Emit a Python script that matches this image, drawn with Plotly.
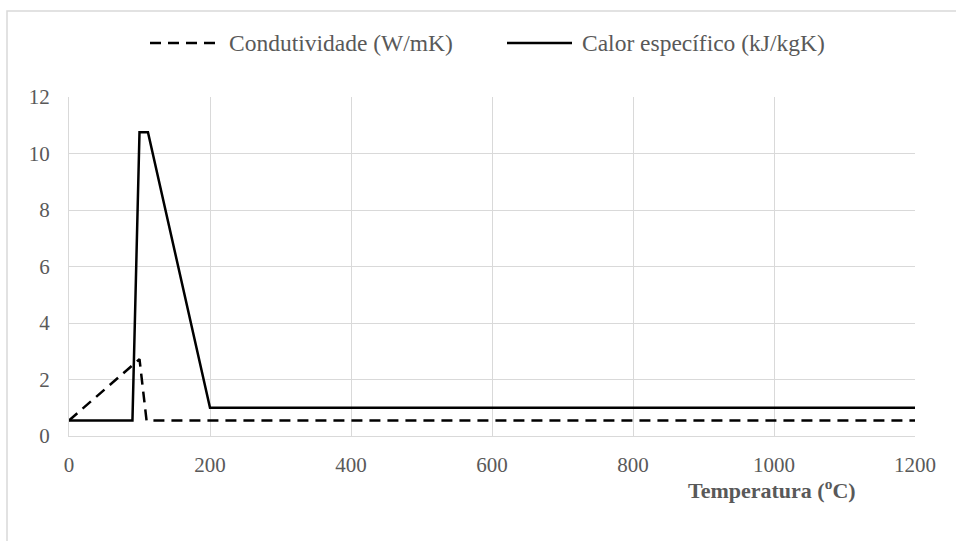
import plotly.graph_objects as go

# Data
temp_cond = [0, 100, 110, 1200]
condutividade = [0.55, 2.72, 0.55, 0.55]

temp_cp = [0, 90, 100, 112, 200, 1200]
calor_especifico = [0.55, 0.55, 10.75, 10.75, 1.0, 1.0]

x_ticks = [0, 200, 400, 600, 800, 1000, 1200]
y_ticks = [0, 2, 4, 6, 8, 10, 12]

series_names = ["Condutividade (W/mK)", "Calor específico (kJ/kgK)"]
series_dash = ["11px,7px", "solid"]

FONT = "Liberation Serif, Times New Roman, serif"
GRAY = "#595959"
GRID = "#d9d9d9"

fig = go.Figure()
fig.add_trace(go.Scatter(
    x=temp_cond, y=condutividade, mode="lines",
    name=series_names[0],
    line=dict(color="black", width=2.5, dash=series_dash[0]),
))
fig.add_trace(go.Scatter(
    x=temp_cp, y=calor_especifico, mode="lines",
    name=series_names[1],
    line=dict(color="black", width=2.5, dash=series_dash[1]),
))

W, H = 956, 541
L, R, T, B = 69, 41, 97, 105
pw, ph = W - L - R, H - T - B

def px_x(p):
    return (p - L) / pw

def px_y(p):
    return (H - B - p) / ph

legend_y = 43
legend_keys = [(150, 215, 227), (507, 572, 580)]

shapes = [dict(
    type="rect", xref="paper", yref="paper",
    x0=px_x(7), x1=1.2, y0=-0.5, y1=px_y(11),
    line=dict(color=GRID, width=1.5),
    fillcolor="rgba(0,0,0,0)", layer="below",
)]
annotations = [dict(
    text="<b>Temperatura (<sup>o</sup>C)</b>",
    xref="paper", yref="paper",
    x=px_x(858), y=px_y(489), xanchor="right", yanchor="middle",
    showarrow=False,
    font=dict(family=FONT, size=22, color=GRAY),
)]
for (x0, x1, xt), name, dash in zip(legend_keys, series_names, series_dash):
    shapes.append(dict(
        type="line", xref="paper", yref="paper",
        x0=px_x(x0), x1=px_x(x1), y0=px_y(legend_y), y1=px_y(legend_y),
        line=dict(color="black", width=2.5, dash=dash),
    ))
    annotations.append(dict(
        text=name, xref="paper", yref="paper",
        x=px_x(xt), y=px_y(legend_y), xanchor="left", yanchor="middle",
        showarrow=False,
        font=dict(family=FONT, size=23.5, color=GRAY),
    ))

fig.update_layout(
    width=W, height=H,
    margin=dict(l=L, r=R, t=T, b=B),
    paper_bgcolor="white", plot_bgcolor="white",
    font=dict(family=FONT, size=21, color=GRAY),
    showlegend=False,
    xaxis=dict(
        range=[0, 1200], tickvals=x_ticks, ticktext=[str(v) for v in x_ticks],
        showgrid=True, gridcolor=GRID, gridwidth=1,
        showline=True, linecolor=GRID, linewidth=1,
        zeroline=False, ticks="", ticklabelstandoff=10,
        tickfont=dict(family=FONT, size=21, color=GRAY),
    ),
    yaxis=dict(
        range=[0, 12], tickvals=y_ticks, ticktext=[str(v) for v in y_ticks],
        showgrid=True, gridcolor=GRID, gridwidth=1,
        showline=True, linecolor=GRID, linewidth=1,
        zeroline=False, ticks="", ticklabelstandoff=14,
        tickfont=dict(family=FONT, size=21, color=GRAY),
    ),
    annotations=annotations,
    shapes=shapes,
)

fig.write_html("out.html")
